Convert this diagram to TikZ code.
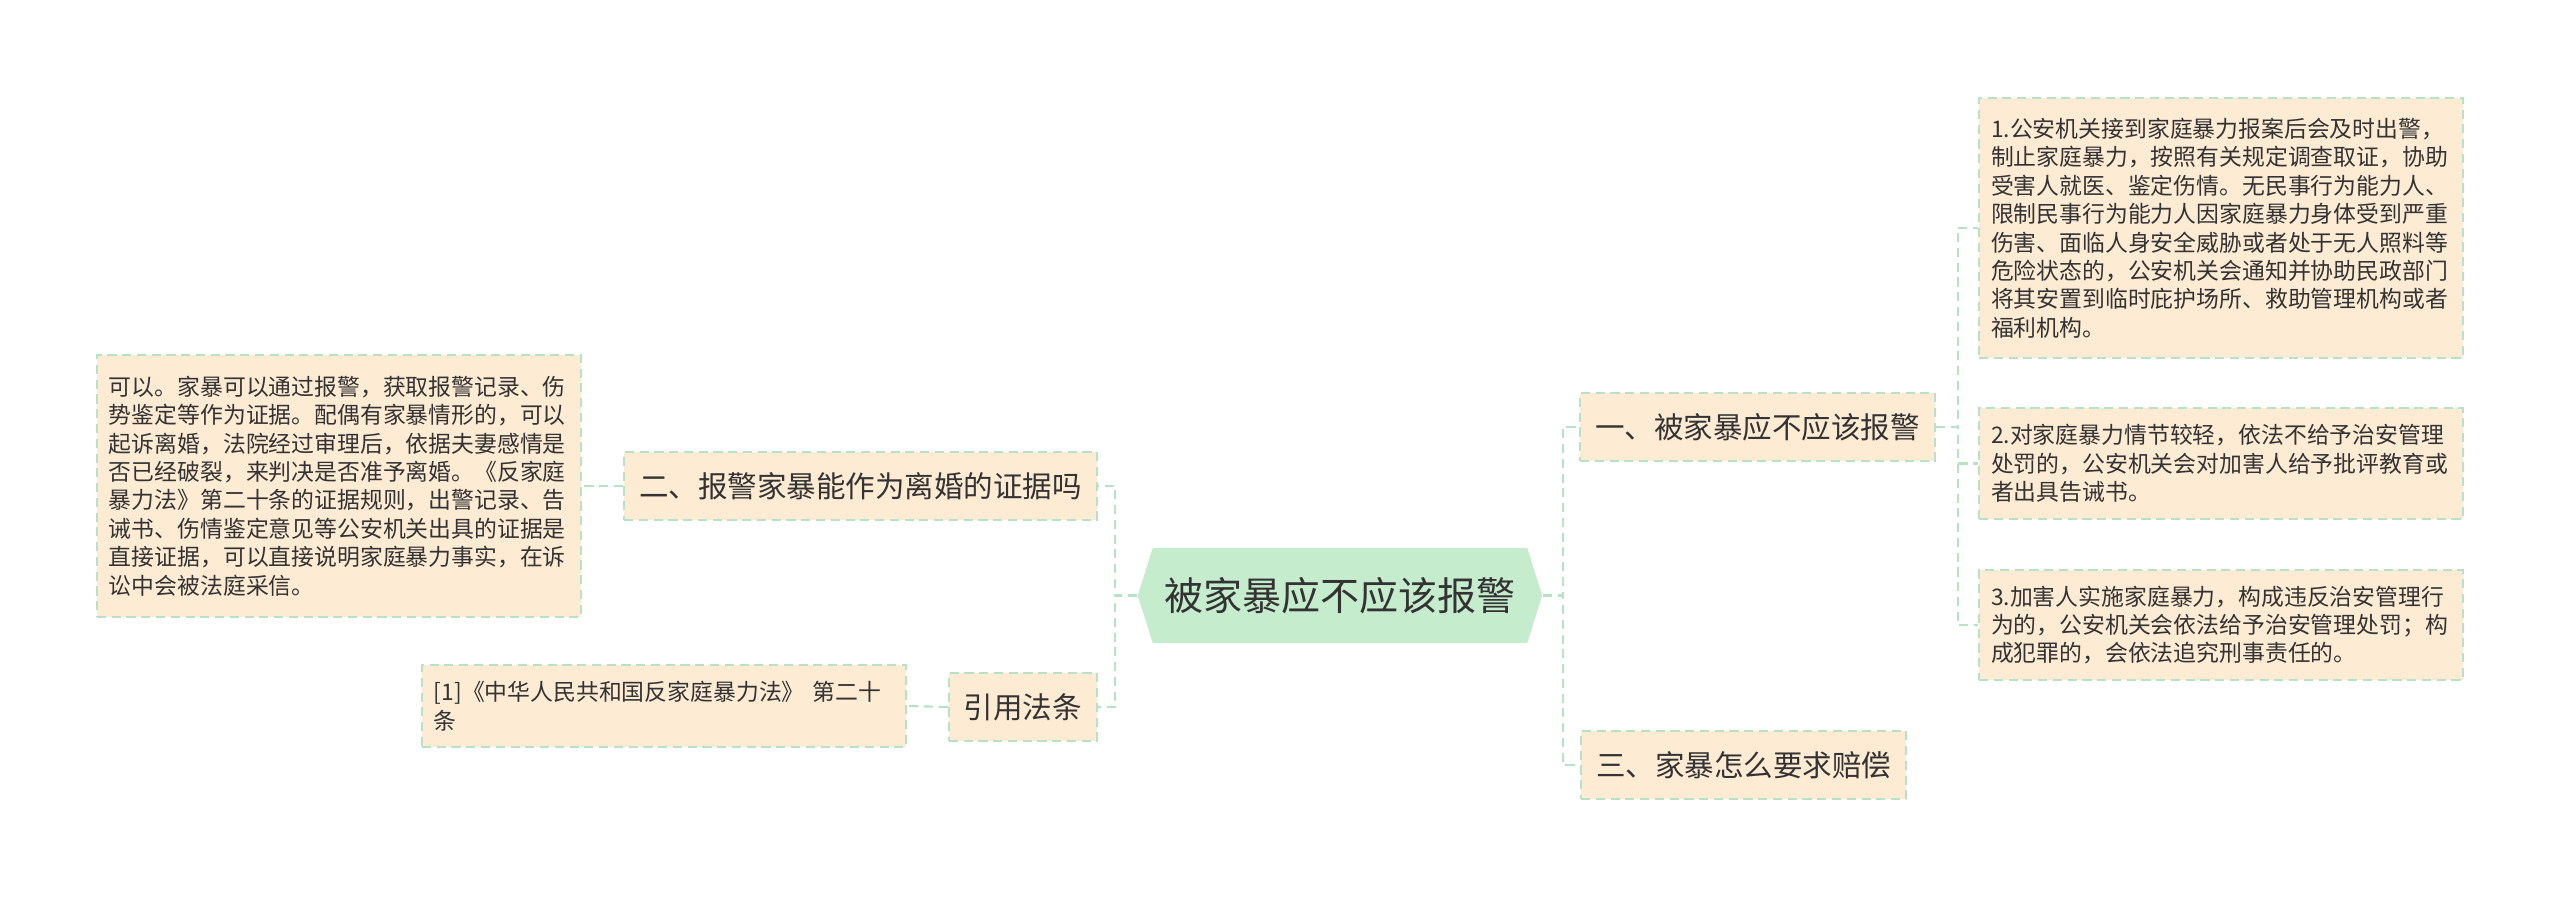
\documentclass[tikz,border=0pt]{standalone}
\usepackage{fontspec}
\newfontfamily\cjk{Noto Sans CJK SC}
\usepackage{tikz}
\usetikzlibrary{shapes.symbols, positioning}
\definecolor{boxfill}{HTML}{FDEBD4}
\definecolor{rootfill}{HTML}{C6ECCE}
\definecolor{linegreen}{HTML}{B7E2C6}
\definecolor{inktext}{HTML}{333333}

\begin{document}
\begin{tikzpicture}[
    link/.style={draw=linegreen, line width=0.6pt, dash pattern=on 2.6pt off 1.6pt},
    box/.style={rectangle, fill=boxfill, link, text=inktext},
    topic/.style={box, font=\cjk\fontsize{8.4}{10}\selectfont, inner xsep=0.15cm, minimum height=0.68cm},
    leaf/.style={box, font=\cjk\fontsize{6.5}{8.1}\selectfont, align=left, text width=4.6cm, inner xsep=0.12cm},
    root/.style={signal, signal to=east and west, signal pointer angle=145, fill=rootfill, text=inktext,
        font=\cjk\fontsize{11.1}{13}\selectfont, minimum width=3.96cm, minimum height=0.95cm}
]

        % Khung hình
        \useasboundingbox (0,0) rectangle (25.6,-8.98);

        % Nút gốc
        \node[root] (root) at (13.40,-5.955) {被家暴应不应该报警};

        % Nhánh phải
        \node[topic, anchor=west] (one) at (15.79,-4.27) {一、被家暴应不应该报警};
        \node[topic, anchor=west] (three) at (15.80,-7.65) {三、家暴怎么要求赔偿};

        % Nhánh trái
        \node[topic, anchor=east] (two) at (10.98,-4.86) {二、报警家暴能作为离婚的证据吗};
        \node[topic, anchor=east] (law) at (10.98,-7.07) {引用法条};

        % Các ý của nhánh một
        \node[leaf, anchor=west, minimum height=2.6cm] (onea) at (19.78,-2.28) {1.公安机关接到家庭暴力报案后会及时出警，\\制止家庭暴力，按照有关规定调查取证，协助\\受害人就医、鉴定伤情。无民事行为能力人、\\限制民事行为能力人因家庭暴力身体受到严重\\伤害、面临人身安全威胁或者处于无人照料等\\危险状态的，公安机关会通知并协助民政部门\\将其安置到临时庇护场所、救助管理机构或者\\福利机构。};
        \node[leaf, anchor=west, minimum height=1.11cm] (oneb) at (19.78,-4.635) {2.对家庭暴力情节较轻，依法不给予治安管理\\处罚的，公安机关会对加害人给予批评教育或\\者出具告诫书。};
        \node[leaf, anchor=west, minimum height=1.10cm] (onec) at (19.78,-6.25) {3.加害人实施家庭暴力，构成违反治安管理行\\为的，公安机关会依法给予治安管理处罚；构\\成犯罪的，会依法追究刑事责任的。};

        % Ý của nhánh hai
        \node[leaf, anchor=east, minimum height=2.62cm] (twoa) at (5.82,-4.86) {可以。家暴可以通过报警，获取报警记录、伤\\势鉴定等作为证据。配偶有家暴情形的，可以\\起诉离婚，法院经过审理后，依据夫妻感情是\\否已经破裂，来判决是否准予离婚。《反家庭\\暴力法》第二十条的证据规则，出警记录、告\\诫书、伤情鉴定意见等公安机关出具的证据是\\直接证据，可以直接说明家庭暴力事实，在诉\\讼中会被法庭采信。};

        % Điều luật
        \node[leaf, anchor=east, minimum height=0.82cm] (lawa) at (9.07,-7.06) {[1]《中华人民共和国反家庭暴力法》 第二十\\条};

        % Đường nối
        \draw[link] (root.east) -- ++(0.20,0) |- (one.west);
        \draw[link] (root.east) -- ++(0.20,0) |- (three.west);
        \draw[link] (root.west) -- ++(-0.22,0) |- (two.east);
        \draw[link] (root.west) -- ++(-0.22,0) |- (law.east);
        \draw[link] (one.east) -- ++(0.22,0) |- (onea.west);
        \draw[link] (one.east) -- ++(0.22,0) |- (oneb.west);
        \draw[link] (one.east) -- ++(0.22,0) |- (onec.west);
        \draw[link] (two.west) -- (twoa.east);
        \draw[link] (law.west) -- (lawa.east);

        \end{tikzpicture}
\end{document}
